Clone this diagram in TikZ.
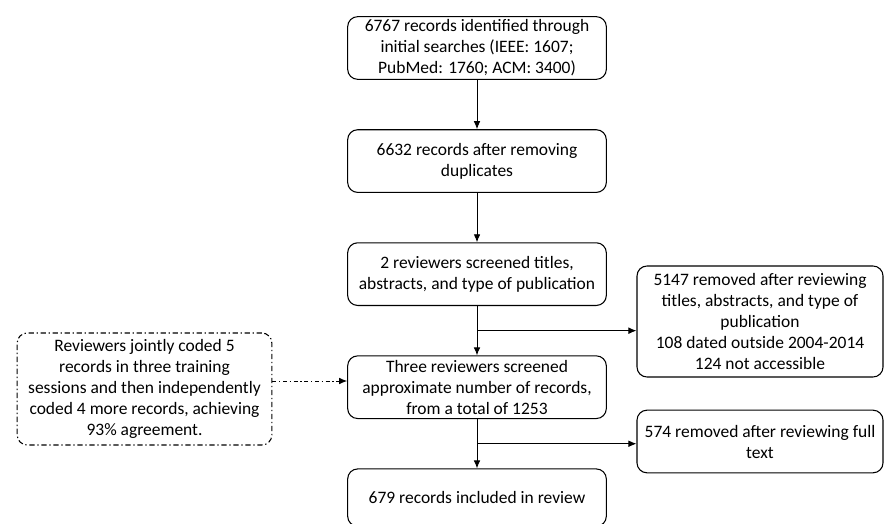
\documentclass[tikz,border=0pt]{standalone}
\usepackage{fontspec}
\setmainfont{Carlito}
\usetikzlibrary{arrows.meta,arrows}
\usetikzlibrary{positioning}
\usetikzlibrary{calc}

\begin{document}
\begin{tikzpicture}[>={Latex[length=6pt,width=5pt]},x=0.75pt,y=-0.75pt,node distance=37pt,line width=0.8pt]
 \tikzstyle{box node}=[rectangle,draw,rounded corners=7.5pt,align=center,inner sep=0pt,minimum width=194pt,minimum height=47pt,font=\fontsize{13.1}{15.75}\selectfont]
 \tikzstyle{side node}=[box node,minimum width=184.5pt]
 \tikzstyle{note node}=[box node,minimum width=191pt,minimum height=84pt,dash pattern=on 4pt off 2pt on 1pt off 2pt]
 \tikzset{
 	flow arrow/.style={->,line width=0.7pt},
 	dashdot arrow/.style={->,line width=0.7pt,dash pattern=on 3pt off 2pt on 1pt off 2pt}
 }

       \useasboundingbox (0,0) rectangle (885,524);

       \node[box node] (found) at (477,48) {6767 records identified through\\initial searches (IEEE: 1607;\\PubMed: 1760; ACM: 3400)};
       \node[box node] (dedup) [below=of found] {6632 records after removing\\duplicates};
       \node[box node] (scr1) [below=of dedup] {2 reviewers screened titles,\\abstracts, and type of publication};
       \node[box node] (scr2) [below=of scr1] {Three reviewers screened\\approximate number of records,\\from a total of 1253};
       \node[box node,minimum height=43pt] (incl) [below=of scr2] {679 records included in review};

       \node[side node,minimum height=83.25pt] (rem1) at (760,321.5) {5147 removed after reviewing\\titles, abstracts, and type of\\publication\\108 dated outside 2004-2014\\124 not accessible};
       \node[side node] (rem2) at (760,441.5) {574 removed after reviewing full\\text};

       \node[note node] (train) at (144.5,389) {Reviewers jointly coded 5\\records in three training\\sessions and then independently\\coded 4 more records, achieving\\93\% agreement.};

       \coordinate (j1) at ($(scr1.south)!0.5!(scr2.north)$);
       \coordinate (j2) at ($(scr2.south)!0.5!(incl.north)$);

     \path[flow arrow]  (found) edge (dedup);
     \path[flow arrow]  (dedup) edge (scr1);
     \path[flow arrow]  (scr1) edge (scr2);
     \path[flow arrow]  (scr2) edge (incl);

     \path[flow arrow]  (j1) edge (j1 -| rem1.west);
     \path[flow arrow]  (j2) edge (j2 -| rem2.west);

     \path[dashdot arrow]  ([yshift=6pt]train.east) edge ([yshift=6pt]train.east -| scr2.west);
\end{tikzpicture}
\end{document}
